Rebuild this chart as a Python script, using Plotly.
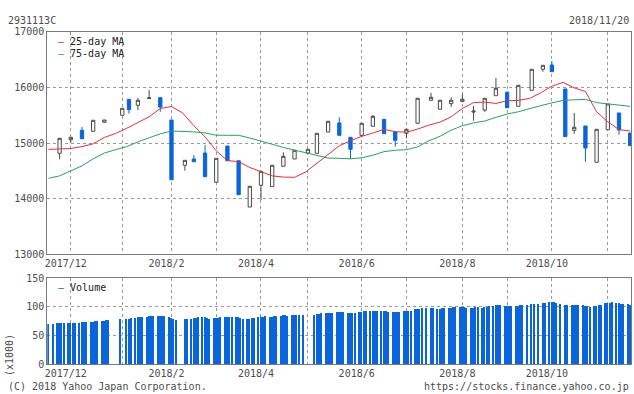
import pandas as pd
import plotly.graph_objects as go

# ---------------- data ----------------
# weekday axis (weekends removed), first day .. last day of the chart
days = pd.bdate_range("2017-11-20", "2018-11-19")
pos = {d.strftime("%Y-%m-%d"): i for i, d in enumerate(days)}

# weekly candles (first trading day of each week)
candle_dates = [
    "2017-11-27", "2017-12-04", "2017-12-11", "2017-12-18", "2017-12-25",
    "2018-01-04", "2018-01-09", "2018-01-15", "2018-01-22", "2018-01-29",
    "2018-02-05", "2018-02-13", "2018-02-19", "2018-02-26", "2018-03-05",
    "2018-03-12", "2018-03-19", "2018-03-26", "2018-04-02", "2018-04-09",
    "2018-04-16", "2018-04-23", "2018-05-01", "2018-05-07", "2018-05-14",
    "2018-05-21", "2018-05-28", "2018-06-04", "2018-06-11", "2018-06-18",
    "2018-06-25", "2018-07-02", "2018-07-09", "2018-07-17", "2018-07-23",
    "2018-07-30", "2018-08-06", "2018-08-13", "2018-08-20", "2018-08-27",
    "2018-09-03", "2018-09-10", "2018-09-18", "2018-09-25", "2018-10-01",
    "2018-10-09", "2018-10-15", "2018-10-22", "2018-10-29", "2018-11-05",
    "2018-11-12", "2018-11-19",
]
opens = [14815, 15059, 15228, 15210, 15372, 15497, 15785, 15677, 15800, 15814,
         15413, 14600, 14713, 14820, 14295, 14946, 14682, 13851, 14241, 14216,
         14582, 14713, 14820, 14815, 15198, 15360, 15102, 15138, 15300, 15425,
         15198, 15174, 15354, 15767, 15605, 15706, 15742, 15555, 15592, 15849,
         15910, 15659, 15946, 16323, 16400, 15969, 15228, 15305, 14654, 15239,
         15539, 15180]
highs = [15090, 15105, 15287, 15408, 15413, 15623, 15790, 15808, 15950, 15814,
         15413, 14689, 14785, 14964, 14725, 14946, 14682, 14223, 14492, 14600,
         14833, 14869, 14887, 15174, 15390, 15461, 15102, 15354, 15503, 15425,
         15198, 15246, 15803, 15898, 15767, 15820, 15874, 15664, 15803, 16167,
         15928, 16036, 16323, 16395, 16472, 15969, 15539, 15305, 15246, 15700,
         15539, 15180]
lows = [14707, 15005, 15077, 15210, 15372, 15497, 15526, 15592, 15795, 15562,
        14341, 14503, 14664, 14395, 14295, 14682, 14072, 13851, 13977, 14216,
        14582, 14713, 14820, 14815, 15198, 15138, 14713, 15110, 15300, 15167,
        14934, 15084, 15354, 15767, 15605, 15646, 15742, 15400, 15560, 15849,
        15634, 15659, 15946, 16280, 16280, 15115, 15167, 14664, 14654, 15239,
        15149, 14952]
closes = [15084, 15102, 15077, 15408, 15413, 15623, 15598, 15767, 15810, 15646,
          14341, 14689, 14664, 14395, 14725, 14682, 14072, 14223, 14492, 14600,
          14761, 14869, 14887, 15174, 15390, 15138, 14887, 15354, 15479, 15167,
          15048, 15246, 15803, 15820, 15767, 15767, 15785, 15572, 15803, 15982,
          15634, 16036, 16323, 16395, 16280, 15115, 15282, 14910, 15246, 15700,
          15233, 14952]

# moving averages sampled once a week (every 5th weekday)
ma_dates = [d.strftime("%Y-%m-%d") for d in days[::5]]
ma25 = [14886, 14890, 14900, 14935, 14985, 15100, 15170, 15265, 15370, 15470,
        15620, 15655, 15540, 15310, 15110, 14860, 14685, 14665, 14560, 14490,
        14410, 14388, 14384, 14480, 14640, 14800, 14950, 15040, 15120, 15180,
        15245, 15203, 15195, 15250, 15320, 15375, 15470, 15620, 15725, 15735,
        15710, 15760, 15765, 15800, 15900, 16020, 16089, 15990, 15925, 15560,
        15380, 15240, 15215]
ma75 = [14366, 14410, 14500, 14590, 14715, 14820, 14880, 14935, 15020, 15090,
        15165, 15215, 15210, 15200, 15180, 15140, 15138, 15138, 15090, 15038,
        14978, 14920, 14870, 14830, 14780, 14730, 14725, 14715, 14735, 14780,
        14845, 14870, 14880, 14930, 15040, 15120, 15230, 15310, 15360, 15395,
        15460, 15520, 15560, 15620, 15670, 15720, 15765, 15775, 15784, 15725,
        15705, 15690, 15658]

# daily volume (x1000), one row per week Mon..Fri, None = no bar
volume = [
    70, None, 70, None, 70.5,
    70.5, 71, 71, None, 71,
    71, 71, 71.5, None, 72,
    73, 73, 73, None, 73.5,
    73.5, 74.5, 75, None, 75,
    75.5, 76, 76.5, None, None,
    None, None, 78, None, None,
    79, 79, 79.5, None, 80.5,
    81, 81.5, 82.5, None, 82.5,
    83, 83.5, 84, None, 83.5,
    84, 84, 84, None, 81.5,
    80, 78.5, 77, None, None,
    None, 78, 78.5, None, 79,
    79.5, 80, 81, None, 81,
    81, 80.5, 79, None, 80,
    80, 80.5, 81, None, 82,
    82.5, 82.5, 82, None, 81.5,
    81, 79.5, 77.5, None, 78,
    78.5, 79.5, 80.5, None, 81,
    81.5, 82, 83, None, 82,
    82.5, 83, 84, None, 84,
    84.5, 85, 84, None, 85.5,
    85.5, 85.5, 85.5, None, 85.5,
    None, None, None, None, 86,
    86.5, 87.5, 88.5, None, 89,
    89, 89, 89, None, 90,
    90.5, 90.7, 90.7, None, 89,
    89, 89, 89.5, None, 91,
    91.3, 92, 92.5, None, 92.5,
    92.5, 92.5, 92.5, None, 92.5,
    92, 91.5, 90.7, None, 91,
    91.3, 91.3, 91.3, None, 92,
    92.5, 92.5, 92.5, None, 95,
    95.5, 96.5, 97.2, None, 98,
    None, 98.3, 98.3, None, 96,
    96.5, 97.5, 98, None, 97,
    97.5, 98.5, 99, None, 99,
    99, 98.5, 98, None, 97,
    97.5, 98.5, 99, None, 98,
    99, 100, 100.5, None, 101,
    102, 103, 103, None, 101,
    101, 101, 101, None, 100.5,
    101.5, 102.5, 103, None, 103,
    None, 104, 105, None, 105,
    None, 106, 107, None, 107.4,
    107.4, 107.4, 107, None, 104.5,
    None, 103.5, 102, None, 103,
    103, 102.5, 102, None, 102,
    101.5, 100.5, 100, None, 100.5,
    101.5, 102.5, 103.5, None, 105.7,
    106.5, 107, 107.4, None, 105.7,
    105.5, 105, 104.5, None, 104.5,
    102,
]

price_ticks = [13000, 14000, 15000, 16000, 17000]
volume_ticks = [0, 50, 100, 150]
month_labels = ["2017/12", "", "2018/2", "", "2018/4", "", "2018/6", "",
                "2018/8", "", "2018/10", ""]

# ---------------- derived ----------------
cx = [pos[d] for d in candle_dates]
mx = [pos[d] for d in ma_dates]
vx = list(range(len(days)))

# month gridlines: first candle of each new month
grid_x = []
for i in range(1, len(candle_dates)):
    if candle_dates[i][:7] != candle_dates[i - 1][:7]:
        grid_x.append(cx[i])

BLUE = "#0a64dc"
RED = "#e62e36"
GREEN = "#1fa563"
DARK = "#4a4a4a"
TXT = "#4d4d4d"
GRID = "#9a9a9a"
FRAME = "#7a7a7a"
FONT = "DejaVu Sans Mono"

W, H = 634, 394
xl, xr = 47.3 / W, 631.3 / W
top_dom = [(H - 254.4) / H, (H - 31.6) / H]
bot_dom = [(H - 364) / H, (H - 278.3) / H]

fig = go.Figure()
fig.add_trace(go.Candlestick(
    x=cx, open=opens, high=highs, low=lows, close=closes,
    increasing=dict(line=dict(color=DARK, width=1), fillcolor="#ffffff"),
    decreasing=dict(line=dict(color=BLUE, width=1), fillcolor=BLUE),
    whiskerwidth=0, showlegend=False, xaxis="x", yaxis="y"))
fig.add_trace(go.Scatter(x=mx, y=ma25, mode="lines", line=dict(color=RED, width=1),
                         showlegend=False, xaxis="x", yaxis="y"))
fig.add_trace(go.Scatter(x=mx, y=ma75, mode="lines", line=dict(color=GREEN, width=1),
                         showlegend=False, xaxis="x", yaxis="y"))
fig.add_trace(go.Bar(x=vx, y=volume, width=0.5, marker=dict(color=BLUE, line=dict(width=0)),
                     showlegend=False, xaxis="x2", yaxis="y2"))

xcommon = dict(range=[-0.5, len(days) - 0.5], tickmode="array", tickvals=grid_x,
               ticktext=month_labels, showgrid=True, gridcolor=GRID, griddash="3px,3px",
               gridwidth=1, showline=True, mirror=True, linecolor=FRAME, linewidth=1,
               ticks="", zeroline=False, ticklabelshift=-5, automargin=False,
               tickfont=dict(family=FONT, size=10, color=TXT), fixedrange=True)
ycommon = dict(showgrid=True, gridcolor=GRID, griddash="3px,3px", gridwidth=1,
               showline=True, mirror=True, linecolor=FRAME, linewidth=1, ticks="",
               zeroline=False, tickfont=dict(family=FONT, size=10, color=TXT),
               tickmode="array", fixedrange=True, automargin=False)

fig.update_layout(
    width=W, height=H, margin=dict(l=0, r=0, t=0, b=0, autoexpand=False),
    paper_bgcolor="#ffffff", plot_bgcolor="#ffffff",
    font=dict(family=FONT, size=10, color=TXT),
    xaxis=dict(domain=[xl, xr], anchor="y", rangeslider=dict(visible=False), **xcommon),
    yaxis=dict(domain=top_dom, anchor="x", range=[13000, 17000], tickvals=price_ticks,
               ticktext=[str(v) for v in price_ticks], **ycommon),
    xaxis2=dict(domain=[xl, xr], anchor="y2", **xcommon),
    yaxis2=dict(domain=bot_dom, anchor="x2", range=[0, 150], tickvals=volume_ticks,
                ticktext=[str(v) for v in volume_ticks], **ycommon),
    bargap=0, hovermode=False,
)

def ann(text, x, y, xanchor="left", color=TXT, angle=0):
    fig.add_annotation(text=text, x=x / W, y=(H - y) / H, xref="paper", yref="paper",
                       xanchor=xanchor, yanchor="middle", showarrow=False,
                       textangle=angle, font=dict(family=FONT, size=10, color=color))

ann("2931113C", 6, 21)
ann("2018/11/20", 631, 21, xanchor="right")
ann("(C) 2018 Yahoo Japan Corporation.", 6, 386)
ann("https://stocks.finance.yahoo.co.jp", 631, 386, xanchor="right")
ann("(x1000)", 9, 355, xanchor="center", angle=-90)
ann(f"<span style='color:{RED}'>–</span> 25-day MA", 56, 41, color="#222222")
ann(f"<span style='color:{GREEN}'>–</span> 75-day MA", 56, 53, color="#222222")
ann(f"<span style='color:{BLUE}'>–</span> Volume", 56, 287, color="#222222")

fig.write_html(
    "out.html",
    config={"displayModeBar": False},
    post_script="document.body.style.margin='0';document.body.style.overflow='hidden';",
)
